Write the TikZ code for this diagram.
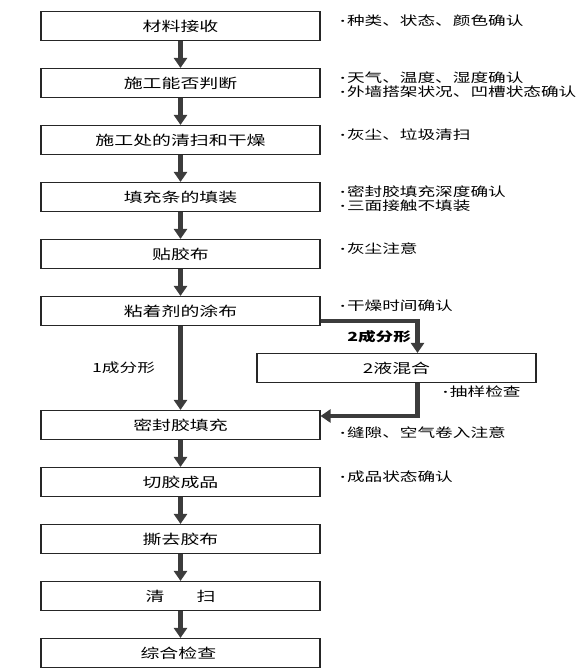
\documentclass[tikz,border=0pt]{standalone}
\usepackage{fontspec}
\setmainfont{Noto Sans CJK SC}
\newfontfamily\dotfont{Liberation Serif}
\usetikzlibrary{arrows.meta,positioning,calc}
\definecolor{flowInk}{HTML}{3C3C3C}
\newcommand{\wide}[1]{\scalebox{1.4}[1]{#1}}
\newcommand{\notedot}{{\dotfont\bfseries ·}\kern1pt}
\tikzset{
    stepbox/.style={
        rectangle,
        draw=black!85,
        line width=1.1pt,
        minimum width=279pt,
        minimum height=29pt,
        inner sep=0pt,
        font=\fontsize{13.5}{16}\selectfont
    },
    noteText/.style={anchor=north west, align=left, inner sep=0pt, font=\fontsize{12.6}{14}\selectfont},
    flowArrow/.style={-{Triangle[width=13pt,length=10pt]}, line width=4.5pt, draw=flowInk}
}

\begin{document}
\begin{tikzpicture}[x=1pt, y=-1pt]
\useasboundingbox (0,0) rectangle (582,672);

% --- Main column of steps ---
\foreach \i/\ypos/\txt in {
    1/26/材料接收,
    2/83/施工能否判断,
    3/140/施工处的清扫和干燥,
    4/197/填充条的填装,
    5/254/贴胶布,
    6/311/粘着剂的涂布,
    7/425/密封胶填充,
    8/482/切胶成品,
    9/539/撕去胶布,
    10/596/{清\hspace{1.7em}扫},
    11/653/综合检查
}{
    \node[stepbox] (s\i) at (180.5,\ypos) {\wide{\txt}};
}

% Side step for the two-part sealant
\node[stepbox] (mix) at (396.5,368) {\wide{2液混合}};

% Arrows down the column
\foreach \a/\b in {1/2, 2/3, 3/4, 4/5, 5/6, 7/8, 8/9, 9/10, 10/11}{
    \draw[flowArrow] (s\a) -- (s\b);
}
\draw[flowArrow] (s6) -- (s7)
    node[midway, left=20pt, font=\fontsize{12.6}{14}\selectfont] {\wide{1成分形}};

% Branch through the mixing step
\draw[flowArrow] ([yshift=5pt]s6.south east) -| ([xshift=21pt]mix.north)
    node[pos=0.75, left=1pt, font=\fontsize{12.6}{14}\selectfont\bfseries] {\wide{2成分形}};
\draw[flowArrow] ([xshift=21pt]mix.south) |- ([yshift=9pt]s7.east);

% --- Check notes on the right ---
\node[noteText] (n1) at ([xshift=19pt, yshift=-4pt]s1.north east) {\wide{\notedot 种类、状态、颜色确认}};
\node[noteText] (n2) at ([xshift=19pt, yshift=-4pt]s2.north east) {\wide{\notedot 天气、温度、湿度确认}\\\wide{\notedot 外墙搭架状况、凹槽状态确认}};
\node[noteText] (n3) at ([xshift=19pt, yshift=-4pt]s3.north east) {\wide{\notedot 灰尘、垃圾清扫}};
\node[noteText] (n4) at ([xshift=19pt, yshift=-4pt]s4.north east) {\wide{\notedot 密封胶填充深度确认}\\\wide{\notedot 三面接触不填装}};
\node[noteText] (n5) at ([xshift=19pt, yshift=-4pt]s5.north east) {\wide{\notedot 灰尘注意}};
\node[noteText] (n6) at ([xshift=19pt, yshift=-4pt]s6.north east) {\wide{\notedot 干燥时间确认}};
\node[noteText] (nmix) at ([xshift=46pt, yshift=-3pt]mix.south) {\wide{\notedot 抽样检查}};
\node[noteText] (n7) at ([xshift=19pt, yshift=-17pt]s7.north east) {\wide{\notedot 缝隙、空气卷入注意}};
\node[noteText] (n8) at ([xshift=19pt, yshift=-4pt]s8.north east) {\wide{\notedot 成品状态确认}};

\end{tikzpicture}
\end{document}
